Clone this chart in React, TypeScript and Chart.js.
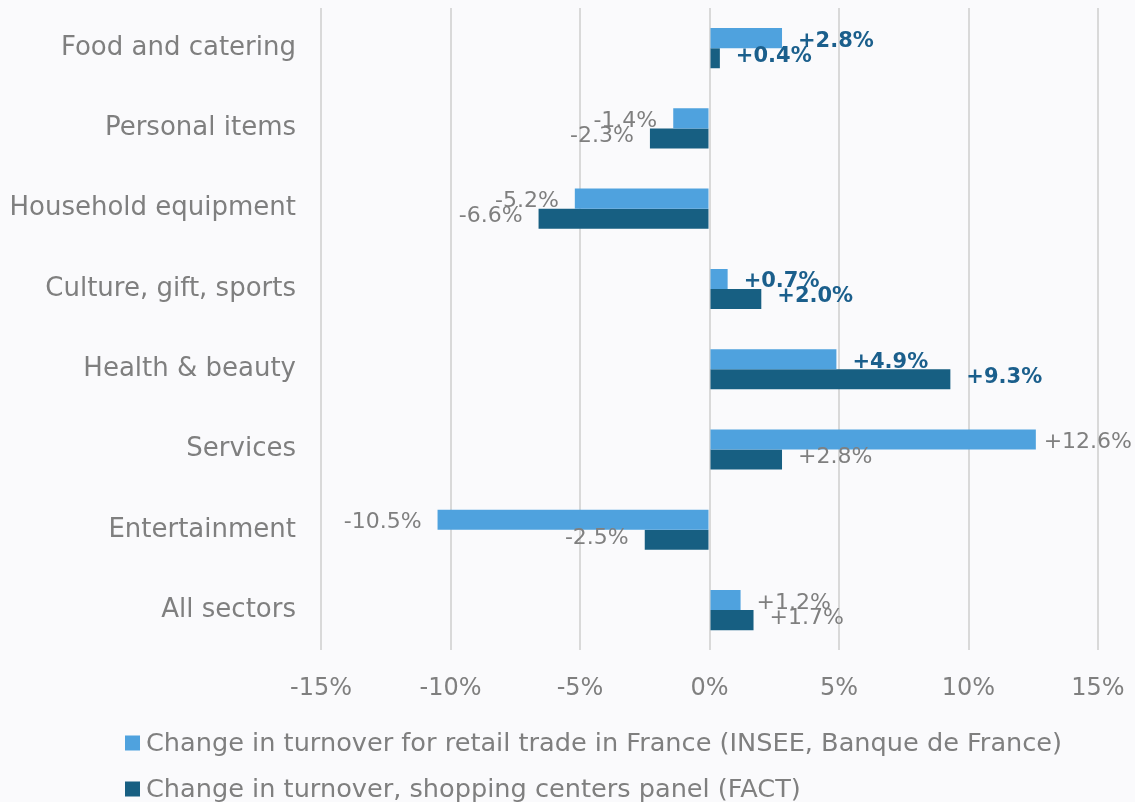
import React, { useEffect, useRef } from "react";
import { Chart, registerables } from "chart.js";

Chart.register(...registerables);

const categories = [
  "Food and catering",
  "Personal items",
  "Household equipment",
  "Culture, gift, sports",
  "Health & beauty",
  "Services",
  "Entertainment",
  "All sectors",
];
const retailSeriesName = "Change in turnover for retail trade in France (INSEE, Banque de France)";
const factSeriesName = "Change in turnover, shopping centers panel (FACT)";
const retailValues = [2.8, -1.4, -5.2, 0.7, 4.9, 12.6, -10.5, 1.2];
const factValues = [0.4, -2.3, -6.6, 2.0, 9.3, 2.8, -2.5, 1.7];
const highlightedCategories = ["Food and catering", "Culture, gift, sports", "Health & beauty"];
const xTicks = [-15, -10, -5, 0, 5, 10, 15];

const FONT = "'DejaVu Sans', sans-serif";
const GRAY = "#7f7f7f";
const LIGHT = "#4fa2de";
const DARK = "#175f82";
const LABEL_BLUE = "#1b5f8c";

const fmt = (v: number) => (v > 0 ? "+" : "") + v.toFixed(1) + "%";

const valueLabels = {
  id: "valueLabels",
  afterDatasetsDraw(chart: any) {
    const ctx = chart.ctx;
    ctx.save();
    ctx.textBaseline = "middle";
    chart.data.datasets.forEach((ds: any, i: number) => {
      const meta = chart.getDatasetMeta(i);
      meta.data.forEach((bar: any, j: number) => {
        const v = ds.data[j];
        const hl = highlightedCategories.includes(categories[j]);
        ctx.font = (hl ? "bold 21px " : "22px ") + FONT;
        ctx.fillStyle = hl ? LABEL_BLUE : GRAY;
        const t = fmt(v);
        const w = ctx.measureText(t).width;
        let x: number;
        if (v >= 0) {
          x = bar.x + 16;
          if (x + w > chart.width - 3) x = chart.width - 3 - w;
        } else {
          x = bar.x - 16 - w;
        }
        ctx.textAlign = "left";
        ctx.fillText(t, x, bar.y + (i === 0 ? 3 : -2));
      });
    });
    ctx.restore();
  },
};

const customLegend = {
  id: "customLegend",
  afterDraw(chart: any) {
    const ctx = chart.ctx;
    ctx.save();
    ctx.textBaseline = "middle";
    ctx.textAlign = "left";
    ctx.font = "25.6px " + FONT;
    const rows = [743, 789];
    chart.data.datasets.forEach((ds: any, i: number) => {
      const y = rows[i];
      ctx.fillStyle = ds.backgroundColor;
      ctx.fillRect(125, y - 7.5, 15, 15);
      ctx.fillStyle = GRAY;
      ctx.fillText(ds.label, 146, y + 1);
    });
    ctx.restore();
  },
};

export default function App() {
  const ref = useRef<HTMLCanvasElement>(null);
  useEffect(() => {
    document.body.style.margin = "0";
    const chart = new Chart(ref.current!, {
      type: "bar",
      data: {
        labels: categories,
        datasets: [
          { label: retailSeriesName, data: retailValues, backgroundColor: LIGHT, categoryPercentage: 0.5, barPercentage: 1 },
          { label: factSeriesName, data: factValues, backgroundColor: DARK, categoryPercentage: 0.5, barPercentage: 1 },
        ],
      },
      options: {
        indexAxis: "y",
        animation: false,
        responsive: false,
        layout: { padding: { top: 8, bottom: 75, left: 0, right: 37 } },
        plugins: { legend: { display: false }, tooltip: { enabled: false } },
        scales: {
          x: {
            min: -15,
            max: 15,
            afterBuildTicks: (s: any) => {
              s.ticks = xTicks.map((v) => ({ value: v }));
            },
            afterFit: (s: any) => {
              s.paddingLeft = 0;
              s.paddingRight = 0;
            },
            ticks: {
              callback: (v: any) => v + "%",
              color: GRAY,
              font: { family: FONT, size: 24 },
              padding: 24,
              maxRotation: 0,
            },
            grid: { color: "#d9d9d9", lineWidth: 2, drawTicks: false },
            border: { display: false },
          },
          y: {
            afterFit: (s: any) => {
              s.width = 321;
              s.paddingTop = 0;
              s.paddingBottom = 0;
            },
            ticks: { color: GRAY, font: { family: FONT, size: 26 }, padding: 25 },
            grid: { display: false, drawTicks: false },
            border: { display: false },
          },
        },
      },
      plugins: [valueLabels, customLegend],
    });
    return () => chart.destroy();
  }, []);
  return (
    <div style={{ width: 1135, height: 802, background: "#fafafc" }}>
      <canvas ref={ref} width={1135} height={802} />
    </div>
  );
}
